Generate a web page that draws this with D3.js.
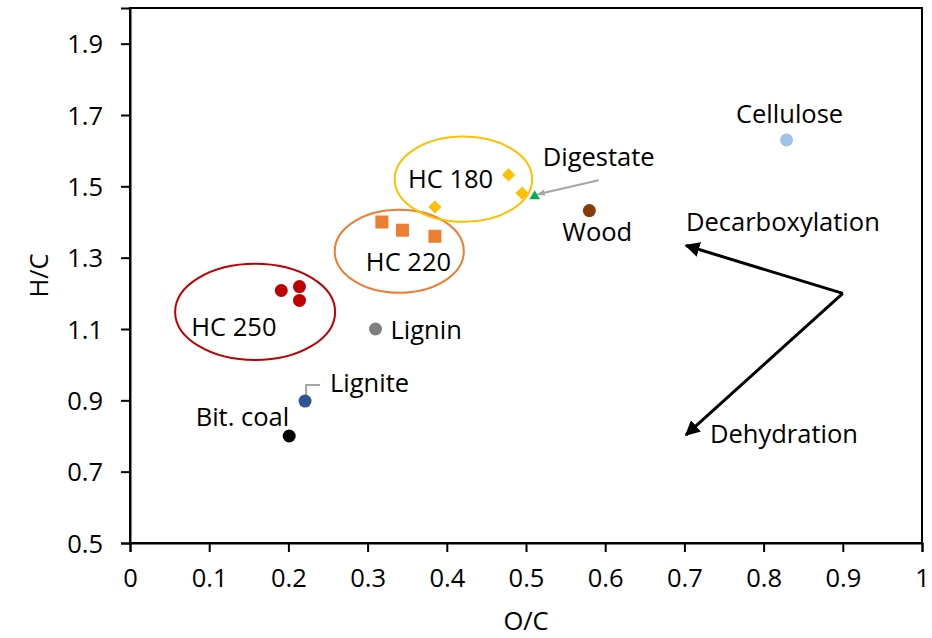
<!DOCTYPE html>
<html>
<head>
<meta charset="utf-8">
<script src="https://cdn.jsdelivr.net/npm/d3@7/dist/d3.min.js"></script>
<style>
  html, body { margin: 0; padding: 0; background: #fff; }
  svg { display: block; }
  text { font-family: "Open Sans", "Liberation Sans", sans-serif; fill: #000; }
</style>
</head>
<body>
<svg id="chart" width="932" height="638"></svg>
<script>
// ---------- data ----------
const xTicks = [0, 0.1, 0.2, 0.3, 0.4, 0.5, 0.6, 0.7, 0.8, 0.9, 1];
const xTickLabels = ["0", "0.1", "0.2", "0.3", "0.4", "0.5", "0.6", "0.7", "0.8", "0.9", "1"];
const yTicks = [0.5, 0.7, 0.9, 1.1, 1.3, 1.5, 1.7, 1.9];
const yTickLabels = ["0.5", "0.7", "0.9", "1.1", "1.3", "1.5", "1.7", "1.9"];

const hc250 = [[0.191, 1.208], [0.214, 1.219], [0.214, 1.180]];
const hc220 = [[0.318, 1.400], [0.344, 1.377], [0.385, 1.360]];
const hc180 = [[0.478, 1.532], [0.495, 1.481], [0.385, 1.442]];
const digestate = [[0.511, 1.475]];
const wood = [[0.580, 1.432]];
const cellulose = [[0.829, 1.630]];
const lignin = [[0.310, 1.100]];
const lignite = [[0.221, 0.898]];
const bitCoal = [[0.201, 0.800]];

// group ellipses in data units: [cx, cy, rx, ry]
const ellipseHC250 = [0.158, 1.148, 0.101, 0.135];
const ellipseHC220 = [0.340, 1.318, 0.0815, 0.1165];
const ellipseHC180 = [0.421, 1.520, 0.0868, 0.1195];

// reaction-pathway arrows in data units
const arrowOrigin = [0.9, 1.2];
const arrowDecarboxylation = [0.702, 1.334];
const arrowDehydration = [0.702, 0.803];

// ---------- layout ----------
const W = 932, H = 638;
const m = { left: 130, right: 10, top: 8, bottom: 95 };
const svg = d3.select("#chart");

const x = d3.scaleLinear().domain([0, 1]).range([m.left, W - m.right]);
const y = d3.scaleLinear().domain([0.5, 2.0]).range([H - m.bottom, m.top]);

const FS = 25.5;

// frame
svg.append("rect")
  .attr("x", x(0)).attr("y", y(2.0))
  .attr("width", x(1) - x(0)).attr("height", y(0.5) - y(2.0))
  .attr("fill", "none").attr("stroke", "#000").attr("stroke-width", 2);

// axes
const xAxis = d3.axisBottom(x).tickValues(xTicks)
  .tickFormat((d, i) => xTickLabels[i]).tickSize(9).tickPadding(17);
const gx = svg.append("g").attr("transform", `translate(0,${y(0.5)})`).call(xAxis);
const yAxis = d3.axisLeft(y).tickValues(yTicks)
  .tickFormat((d, i) => yTickLabels[i]).tickSize(9).tickPadding(18);
const gy = svg.append("g").attr("transform", `translate(${x(0)},0)`).call(yAxis);
[gx, gy].forEach(g => {
  g.select(".domain").attr("stroke", "#000").attr("stroke-width", 2);
  g.selectAll(".tick line").attr("stroke", "#000").attr("stroke-width", 2);
  g.selectAll(".tick text").style("font-family", '"Open Sans", sans-serif')
    .style("font-size", FS + "px").attr("fill", "#000");
});
gy.selectAll(".tick text").attr("dy", "0.36em");

// axis titles
svg.append("text").attr("x", x(0.5)).attr("y", 630)
  .attr("text-anchor", "middle").style("font-size", FS + "px").text("O/C");
svg.append("text")
  .attr("transform", `translate(48,${y(1.25)}) rotate(-90)`)
  .attr("text-anchor", "middle").style("font-size", FS + "px").text("H/C");

// ellipses
function ell(e, color) {
  svg.append("ellipse")
    .attr("cx", x(e[0])).attr("cy", y(e[1]))
    .attr("rx", x(e[0] + e[2]) - x(e[0]))
    .attr("ry", y(e[1] - e[3]) - y(e[1]))
    .attr("fill", "none").attr("stroke", color).attr("stroke-width", 2);
}
ell(ellipseHC250, "#C00000");
ell(ellipseHC220, "#ED7D31");
ell(ellipseHC180, "#FFC000");

// arrowheads
const defs = svg.append("defs");
defs.append("marker").attr("id", "blackHead")
  .attr("viewBox", "0 0 10 10").attr("refX", 9).attr("refY", 5)
  .attr("markerWidth", 5).attr("markerHeight", 5).attr("markerUnits", "strokeWidth")
  .attr("orient", "auto")
  .append("path").attr("d", "M0,0 L10,5 L0,10 z").attr("fill", "#000");
defs.append("marker").attr("id", "greyHead")
  .attr("viewBox", "0 0 10 10").attr("refX", 9).attr("refY", 5)
  .attr("markerWidth", 4).attr("markerHeight", 4).attr("markerUnits", "strokeWidth")
  .attr("orient", "auto")
  .append("path").attr("d", "M0,1 L10,5 L0,9 z").attr("fill", "#A6A6A6");

// pathway arrows
[arrowDecarboxylation, arrowDehydration].forEach(t => {
  svg.append("line")
    .attr("x1", x(arrowOrigin[0])).attr("y1", y(arrowOrigin[1]))
    .attr("x2", x(t[0])).attr("y2", y(t[1]))
    .attr("stroke", "#000").attr("stroke-width", 3)
    .attr("marker-end", "url(#blackHead)");
});

// Digestate leader arrow
svg.append("line")
  .attr("x1", x(digestate[0][0]) + 64).attr("y1", y(digestate[0][1]) - 15)
  .attr("x2", x(digestate[0][0]) + 3).attr("y2", y(digestate[0][1]) - 1)
  .attr("stroke", "#A6A6A6").attr("stroke-width", 2)
  .attr("marker-end", "url(#greyHead)");

// Lignite leader
svg.append("polyline")
  .attr("points", [
    [x(lignite[0][0]) + 1, y(lignite[0][1]) - 2],
    [x(lignite[0][0]) + 1, y(lignite[0][1]) - 16],
    [x(lignite[0][0]) + 15, y(lignite[0][1]) - 16]
  ].map(p => p.join(",")).join(" "))
  .attr("fill", "none").attr("stroke", "#A6A6A6").attr("stroke-width", 2);

// markers
function circles(data, color) {
  svg.selectAll(null).data(data).enter().append("circle")
    .attr("cx", d => x(d[0])).attr("cy", d => y(d[1]))
    .attr("r", 6.5).attr("fill", color);
}
circles(hc250, "#C00000");
circles(wood, "#843C0C");
circles(cellulose, "#9DC3E6");
circles(lignin, "#7F7F7F");
circles(lignite, "#2F5597");
circles(bitCoal, "#000000");

svg.selectAll(null).data(hc220).enter().append("rect")
  .attr("x", d => x(d[0]) - 6.5).attr("y", d => y(d[1]) - 6.5)
  .attr("width", 13).attr("height", 13).attr("fill", "#ED7D31");

svg.selectAll(null).data(hc180).enter().append("path")
  .attr("transform", d => `translate(${x(d[0])},${y(d[1])})`)
  .attr("d", d3.symbol().type(d3.symbolDiamond2).size(110))
  .attr("fill", "#FFC000");

svg.selectAll(null).data(digestate).enter().append("path")
  .attr("transform", d => `translate(${x(d[0])},${y(d[1]) + 1})`)
  .attr("d", d3.symbol().type(d3.symbolTriangle2).size(80))
  .attr("fill", "#00B050");

// labels (anchored to their points with pixel offsets)
const labels = [
  { t: "HC 250", p: hc250[0], dx: -90, dy: 46, a: "start" },
  { t: "HC 220", p: hc220[0], dx: -16, dy: 49, a: "start" },
  { t: "HC 180", p: hc180[2], dx: -27, dy: -19, a: "start" },
  { t: "Digestate", p: digestate[0], dx: 8, dy: -29, a: "start" },
  { t: "Wood", p: wood[0], dx: -27, dy: 30, a: "start" },
  { t: "Cellulose", p: cellulose[0], dx: 3, dy: -17, a: "middle" },
  { t: "Lignin", p: lignin[0], dx: 15, dy: 10, a: "start" },
  { t: "Lignite", p: lignite[0], dx: 25, dy: -9, a: "start" },
  { t: "Bit. coal", p: bitCoal[0], dx: 0, dy: -10, a: "end" },
  { t: "Decarboxylation", p: arrowDecarboxylation, dx: 0, dy: -15, a: "start" },
  { t: "Dehydration", p: arrowDehydration, dx: 24, dy: 8, a: "start" }
];
svg.selectAll(null).data(labels).enter().append("text")
  .attr("x", d => x(d.p[0]) + d.dx).attr("y", d => y(d.p[1]) + d.dy)
  .attr("text-anchor", d => d.a).style("font-size", FS + "px")
  .text(d => d.t);
</script>
</body>
</html>
